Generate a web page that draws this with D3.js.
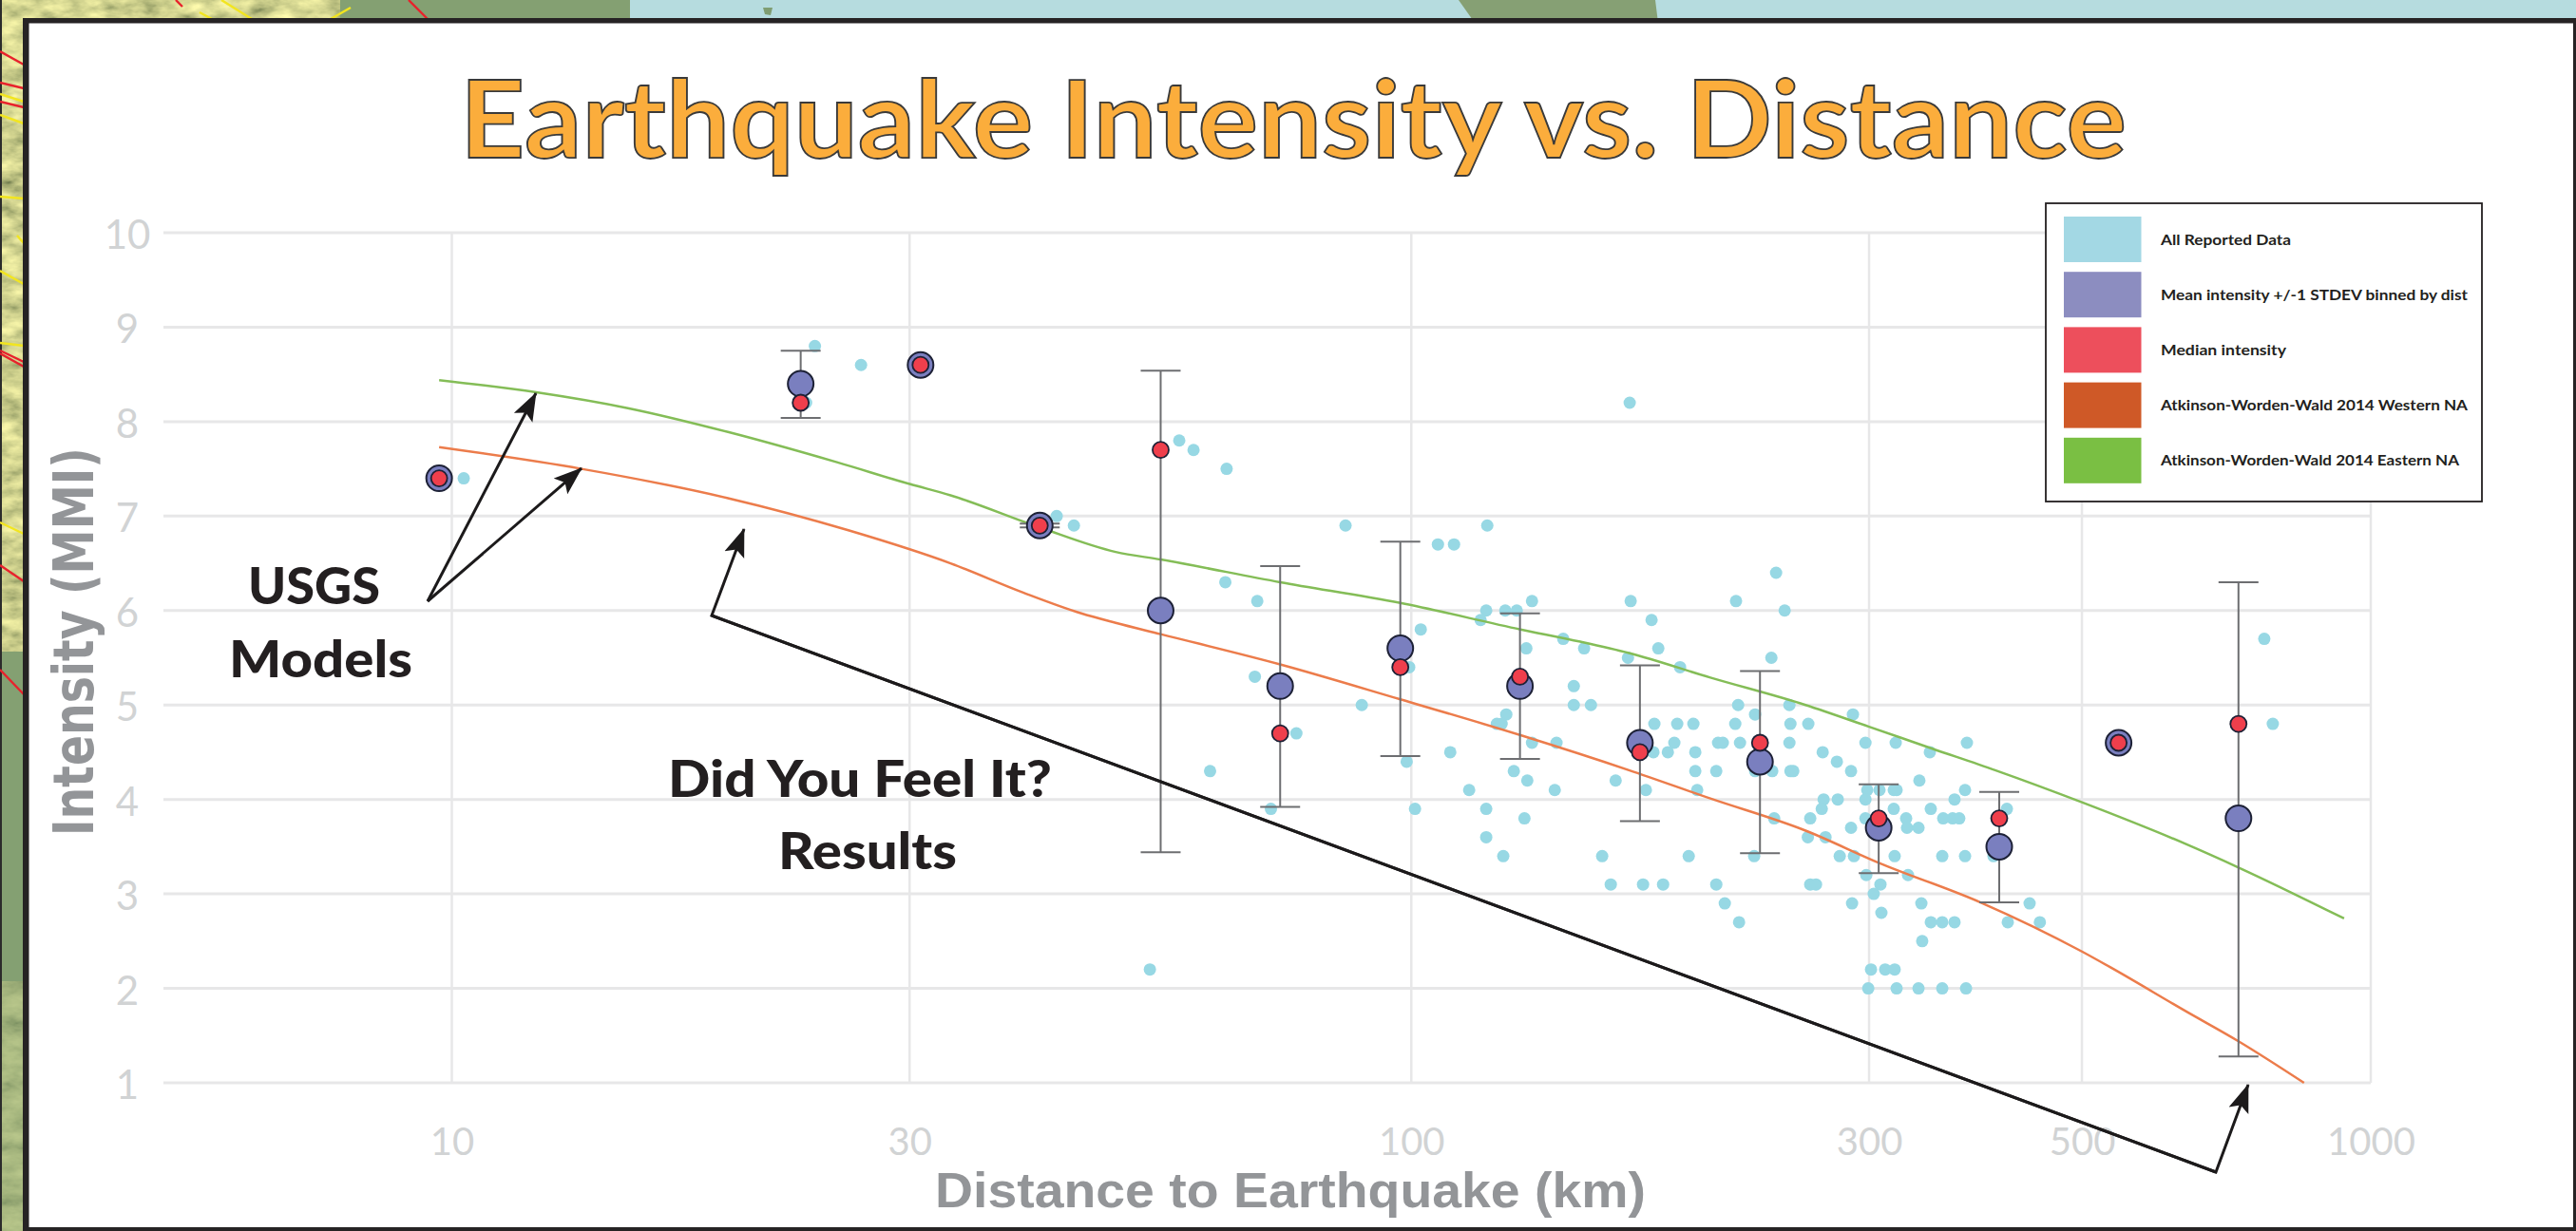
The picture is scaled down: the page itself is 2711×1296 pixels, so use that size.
<html>

<head>
    <script src="https://cdn.jsdelivr.net/npm/d3@7"></script>
    <style>
        html, body {
            margin: 0;
            padding: 0;
            background: white;
        }

        svg {
            display: block;
        }

        text {
            font-family: Lato, "Open Sans", sans-serif;
        }
    </style>
</head>

<body>
    <svg id="chart" width="2711" height="1296"></svg>
</body>
<script>
    const xTicks = [10, 30, 100, 300, 500, 1000];
    const yTicks = [1, 2, 3, 4, 5, 6, 7, 8, 9, 10];

    // every felt report, [distance km, intensity]
    const reportedPoints = [
        [23.9, 8.8], [26.7, 8.6], [23.4, 8.2], [168.9, 8.2], [57.3, 7.8], [59.3, 7.7], [64.2, 7.5], [10.29, 7.4],
        [42.7, 7.0], [44.5, 6.9], [85.4, 6.9], [120, 6.9], [106.6, 6.7], [110.8, 6.7], [240, 6.4], [64, 6.3],
        [69.1, 6.1], [133.6, 6.1], [169.3, 6.1], [218, 6.1], [119.7, 6.0], [125.3, 6.0], [128.8, 6.0], [245, 6.0],
        [118.1, 5.9], [178, 5.9], [102.3, 5.8], [144, 5.7], [774.5, 5.7], [131.8, 5.6], [151.4, 5.6], [180.9, 5.6],
        [168.2, 5.5], [237.3, 5.5], [99.5, 5.4], [190.6, 5.4], [68.7, 5.3], [147.7, 5.2], [88.8, 5.0], [147.7, 5.0],
        [153.9, 5.0], [219.1, 5.0], [247.8, 5.0], [125.6, 4.9], [228.2, 4.9], [288.6, 4.9], [122.8, 4.8], [124.2, 4.8],
        [179.2, 4.8], [189.3, 4.8], [196.8, 4.8], [217.6, 4.8], [248.4, 4.8], [259.3, 4.8], [790.5, 4.8], [75.9, 4.7],
        [133.6, 4.6], [141.7, 4.6], [188, 4.6], [208.8, 4.6], [211.2, 4.6], [220.1, 4.6], [247.8, 4.6], [297.4, 4.6],
        [319.8, 4.6], [379.4, 4.6], [109.8, 4.5], [178.8, 4.5], [185.1, 4.5], [197.7, 4.5], [268.4, 4.5], [347.1, 4.5],
        [98.9, 4.4], [277.7, 4.4], [61.7, 4.3], [127.9, 4.3], [197.7, 4.3], [207.9, 4.3], [228.2, 4.3], [237.8, 4.3],
        [248.4, 4.3], [250.1, 4.3], [287.3, 4.3], [132.1, 4.2], [163.3, 4.2], [338.5, 4.2], [114.9, 4.1], [141.1, 4.1],
        [175.6, 4.1], [198.6, 4.1], [298.7, 4.1], [307.6, 4.1], [318.3, 4.1], [320.5, 4.1], [377.7, 4.1], [269, 4.0],
        [278.3, 4.0], [297.4, 4.0], [368.3, 4.0], [71.4, 3.9], [100.9, 3.9], [119.7, 3.9], [267.8, 3.9], [318.3, 3.9],
        [347.9, 3.9], [417.6, 3.9], [131.2, 3.8], [238.9, 3.8], [260.5, 3.8], [297.4, 3.8], [327.9, 3.8], [358.4, 3.8],
        [366.6, 3.8], [372.5, 3.8], [287.3, 3.7], [328.6, 3.7], [337.8, 3.7], [119.7, 3.6], [259, 3.6], [270.2, 3.6],
        [124.7, 3.4], [158.1, 3.4], [194.6, 3.4], [227.7, 3.4], [279.6, 3.4], [289.3, 3.4], [319, 3.4], [357.6, 3.4],
        [377.7, 3.4], [404.4, 3.4], [298, 3.2], [329.4, 3.2], [161.4, 3.1], [174.4, 3.1], [183, 3.1], [207.9, 3.1],
        [260.5, 3.1], [264.1, 3.1], [308.3, 3.1], [303.4, 3.0], [212.2, 2.9], [288, 2.9], [340.1, 2.9], [441, 2.9],
        [309, 2.8], [219.6, 2.7], [347.9, 2.7], [357.6, 2.7], [368.3, 2.7], [418.5, 2.7], [452, 2.7], [340.8, 2.5],
        [53.4, 2.2], [301.4, 2.2], [311.8, 2.2], [319, 2.2], [299.4, 2.0], [320.5, 2.0], [337.8, 2.0], [357.6, 2.0],
        [378.6, 2.0]
    ];

    // binned results, one entry per distance bin
    const binKm = [9.7, 23.1, 30.8, 41, 54.8, 73, 97.4, 129.8, 173.1, 230.9, 307, 410, 546, 728];
    const binMean = [7.4, 8.4, 8.6, 6.9, 6.0, 5.2, 5.6, 5.2, 4.6, 4.4, 3.7, 3.5, 4.6, 3.8];
    const binMedian = [7.4, 8.2, 8.6, 6.9, 7.7, 4.7, 5.4, 5.3, 4.5, 4.6, 3.8, 3.8, 4.6, 4.8];
    const binUpper = [7.4, 8.75, 8.6, 6.92, 8.54, 6.47, 6.73, 5.97, 5.42, 5.36, 4.16, 4.08, 4.6, 6.3];
    const binLower = [7.4, 8.04, 8.6, 6.88, 3.44, 3.92, 4.46, 4.43, 3.77, 3.43, 3.22, 2.91, 4.6, 1.28];

    const easternKm = [9.7, 12.25, 15.3, 19.4, 25.2, 30, 33.1, 41, 49.2, 54.8, 73, 97.4, 130, 150, 168.6, 205, 257.6, 300, 348.7, 406, 500, 641, 728, 938];
    const easternMmi = [8.44, 8.31, 8.14, 7.89, 7.57, 7.34, 7.22, 6.88, 6.62, 6.54, 6.30, 6.08, 5.80, 5.67, 5.55, 5.29, 5.0, 4.77, 4.54, 4.31, 3.97, 3.53, 3.28, 2.74];

    const westernKm = [9.7, 13.65, 19.4, 25.9, 33.1, 39.4, 45.3, 49.2, 54.8, 73, 97.4, 130, 168.6, 205, 257.6, 307, 392, 500, 536, 641, 728, 852];
    const westernMmi = [7.73, 7.5, 7.19, 6.85, 6.5, 6.19, 5.97, 5.87, 5.75, 5.43, 5.06, 4.68, 4.31, 4.01, 3.67, 3.33, 2.91, 2.39, 2.22, 1.76, 1.44, 1.0];

    const legendLabels = [
        "All Reported Data",
        "Mean intensity +/-1 STDEV binned by dist",
        "Median intensity",
        "Atkinson-Worden-Wald 2014 Western NA",
        "Atkinson-Worden-Wald 2014 Eastern NA"
    ];
    const legendColors = ["#a3d8e4", "#8c8dc0", "#ed4f5c", "#cf5927", "#7abf43"];
    const legendWidths = [137, 323, 132, 323, 314];

    const svg = d3.select("#chart");
    const x = d3.scaleLog().domain([10, 1000]).range([475.5, 2495]);
    const y = d3.scaleLinear().domain([1, 10]).range([1140, 245]);
    const gridLeft = 172;

    function drawBackdrop() {
        const defs = svg.append("defs");
        let terrain = defs.append("filter").attr("id", "terrain")
            .attr("x", 0).attr("y", 0).attr("width", 1).attr("height", 1);
        terrain.append("feTurbulence")
            .attr("type", "fractalNoise")
            .attr("baseFrequency", "0.035 0.07")
            .attr("numOctaves", 4)
            .attr("seed", 7);
        terrain.append("feColorMatrix")
            .attr("color-interpolation-filters", "sRGB")
            .attr("values", "0.9 0 0 0 0.16  0.8 0 0 0 0.24  0.6 0 0 0 0.12  0 0 0 0 1");

        svg.append("rect").attr("width", 2711).attr("height", 1296).attr("fill", "#84a072");
        // water along the top
        svg.append("rect").attr("x", 663).attr("width", 2048).attr("height", 24).attr("fill", "#b6dcdf");
        svg.append("path").attr("d", "M1535,0 L1742,0 L1745,24 L1552,24 Z").attr("fill", "#86a074");
        svg.append("path").attr("d", "M803,8 L813,8 L811,16 L805,15 Z").attr("fill", "#7f9d72");
        // hillshade on the left and top
        svg.append("rect").attr("width", 358).attr("height", 24).attr("filter", "url(#terrain)");
        svg.append("rect").attr("width", 26).attr("height", 686).attr("filter", "url(#terrain)");
        svg.append("rect").attr("y", 1033).attr("width", 26).attr("height", 263).attr("filter", "url(#terrain)").attr("opacity", 0.45);
        svg.append("rect").attr("width", 2).attr("height", 1296).attr("fill", "#2b2b2b");

        const redFaults = [[0, 54, 25, 68], [0, 87, 25, 93], [0, 107, 25, 113], [0, 369, 25, 381], [0, 372, 25, 386], [0, 595, 25, 612], [0, 705, 25, 731], [185, 0, 192, 7], [430, 0, 450, 20]];
        const yellowFaults = [[0, 99, 25, 107], [0, 121, 25, 130], [0, 207, 25, 209], [18, 248, 25, 256], [0, 285, 25, 299], [0, 361, 25, 364], [0, 550, 25, 562], [210, 13, 223, 20], [233, 0, 265, 20], [348, 20, 369, 8]];
        svg.selectAll(".red-fault").data(redFaults).enter().append("line")
            .attr("class", "red-fault")
            .attr("x1", d => d[0]).attr("y1", d => d[1]).attr("x2", d => d[2]).attr("y2", d => d[3])
            .attr("stroke", "#e8222c").attr("stroke-width", 2.4);
        svg.selectAll(".yellow-fault").data(yellowFaults).enter().append("line")
            .attr("class", "yellow-fault")
            .attr("x1", d => d[0]).attr("y1", d => d[1]).attr("x2", d => d[2]).attr("y2", d => d[3])
            .attr("stroke", "#f2e51f").attr("stroke-width", 2.4);

        // the black framed white panel
        svg.append("rect").attr("x", 24).attr("y", 19).attr("width", 2687).attr("height", 1277).attr("fill", "#262324");
        svg.append("rect").attr("x", 30.5).attr("y", 24.5).attr("width", 2677.5).attr("height", 1267.5).attr("fill", "white");
    }

    function drawGrid() {
        svg.append("g").selectAll("line").data(yTicks).enter().append("line")
            .attr("x1", gridLeft).attr("x2", x(1000))
            .attr("y1", d => y(d)).attr("y2", d => y(d))
            .attr("stroke", "#e7e7e8").attr("stroke-width", 3);
        svg.append("g").selectAll("line").data(xTicks).enter().append("line")
            .attr("x1", d => x(d)).attr("x2", d => x(d))
            .attr("y1", y(10)).attr("y2", y(1))
            .attr("stroke", "#e7e7e8").attr("stroke-width", 2.5);

        let xAxis = d3.axisBottom(x).tickValues(xTicks).tickFormat(d3.format("d")).tickSize(0);
        let yAxis = d3.axisLeft(y).tickValues(yTicks).tickFormat(d3.format("d")).tickSize(0);
        let xg = svg.append("g").attr("transform", "translate(0,1216)").call(xAxis);
        let yg = svg.append("g").attr("transform", "translate(134,3)").call(yAxis);
        xg.select(".domain").remove();
        yg.select(".domain").remove();
        xg.selectAll("text").attr("y", 0).attr("dy", 0)
            .style("font-family", "Lato").style("font-size", "40px").style("fill", "#d1d3d4");
        yg.selectAll("text").attr("x", 0).attr("text-anchor", "middle")
            .style("font-family", "Lato").style("font-size", "42px").style("fill", "#d1d3d4");
    }

    function drawData() {
        svg.append("g").selectAll("circle").data(reportedPoints).enter().append("circle")
            .attr("cx", d => x(d[0])).attr("cy", d => y(d[1])).attr("r", 6.5)
            .attr("fill", "#97d8e4");

        let line = d3.line().x(d => x(d[0])).y(d => y(d[1])).curve(d3.curveMonotoneX);
        svg.append("path").attr("d", line(d3.zip(easternKm, easternMmi)))
            .attr("fill", "none").attr("stroke", "#84bd57").attr("stroke-width", 2.5);
        svg.append("path").attr("d", line(d3.zip(westernKm, westernMmi)))
            .attr("fill", "none").attr("stroke", "#ec7c4b").attr("stroke-width", 2.5);

        // error bars, bins with a single report have none
        let bins = binKm.map((km, i) => ({km, mean: binMean[i], median: binMedian[i], upper: binUpper[i], lower: binLower[i]}));
        let bars = svg.append("g").selectAll("g").data(bins.filter(d => d.upper > d.lower)).enter().append("g")
            .attr("stroke", "#6d6e71").attr("stroke-width", 2);
        bars.append("line")
            .attr("x1", d => x(d.km)).attr("x2", d => x(d.km))
            .attr("y1", d => y(d.upper)).attr("y2", d => y(d.lower));
        bars.append("line")
            .attr("x1", d => x(d.km) - 21).attr("x2", d => x(d.km) + 21)
            .attr("y1", d => y(d.upper)).attr("y2", d => y(d.upper));
        bars.append("line")
            .attr("x1", d => x(d.km) - 21).attr("x2", d => x(d.km) + 21)
            .attr("y1", d => y(d.lower)).attr("y2", d => y(d.lower));

        svg.append("g").selectAll("circle").data(bins).enter().append("circle")
            .attr("cx", d => x(d.km)).attr("cy", d => y(d.mean)).attr("r", 13.5)
            .attr("fill", "#7a7fbf").attr("stroke", "#1d2136").attr("stroke-width", 2);
        svg.append("g").selectAll("circle").data(bins).enter().append("circle")
            .attr("cx", d => x(d.km)).attr("cy", d => y(d.median)).attr("r", 8.5)
            .attr("fill", "#ef3f4c").attr("stroke", "#1d2136").attr("stroke-width", 1.8);
    }

    function addText(label, px, py, size, weight, color, width) {
        return svg.append("text")
            .attr("x", px).attr("y", py)
            .attr("textLength", width).attr("lengthAdjust", "spacingAndGlyphs")
            .style("font-size", size + "px").style("font-weight", weight).style("fill", color)
            .text(label);
    }

    function drawLabels() {
        addText("Earthquake Intensity vs. Distance", 484, 166, 113, 700, "#fbad3c", 1754)
            .attr("stroke", "#3a3a3a").attr("stroke-width", 1.8);

        addText("Distance to Earthquake (km)", 984, 1271, 52, 700, "#939598", 748)
            .style("font-family", "Liberation Sans");
        svg.append("text")
            .attr("transform", "translate(98,880) rotate(-90)")
            .attr("textLength", 409).attr("lengthAdjust", "spacingAndGlyphs")
            .style("font-family", "DejaVu Sans").style("font-size", "58px").style("font-weight", 700).style("fill", "#939598")
            .text("Intensity (MMI)");

        addText("USGS", 261, 636, 54, 900, "#231f20", 139);
        addText("Models", 241, 713, 54, 900, "#231f20", 193);
        addText("Did You Feel It?", 703, 839, 54, 900, "#231f20", 404);
        addText("Results", 819, 915, 54, 900, "#231f20", 188);
    }

    function drawArrows() {
        svg.select("defs").append("marker")
            .attr("id", "head")
            .attr("viewBox", "0 0 30 24")
            .attr("refX", 29).attr("refY", 12)
            .attr("markerWidth", 30).attr("markerHeight", 24)
            .attr("markerUnits", "userSpaceOnUse")
            .attr("orient", "auto")
            .append("path").attr("d", "M0,1 L30,12 L0,23 L6,12 Z").attr("fill", "#1c1a1b");

        const arrows = [
            [[450, 633], [564, 414]],
            [[450, 633], [612, 493]],
            [[2332, 1234], [749, 648], [783, 557]],
            [[749, 648], [2332, 1234], [2366, 1142]]
        ];
        svg.append("g").selectAll("path").data(arrows).enter().append("path")
            .attr("d", d => d3.line()(d))
            .attr("fill", "none").attr("stroke", "#1c1a1b").attr("stroke-width", 3)
            .attr("marker-end", "url(#head)");
    }

    function drawLegend() {
        svg.append("rect")
            .attr("x", 2153).attr("y", 214).attr("width", 459).attr("height", 314)
            .attr("fill", "white").attr("stroke", "#231f20").attr("stroke-width", 1.8);
        let rows = svg.append("g").selectAll("g").data(legendLabels).enter().append("g")
            .attr("transform", (d, i) => "translate(2172," + (228 + i * 58.2) + ")");
        rows.append("rect")
            .attr("width", 81.5).attr("height", 48)
            .attr("fill", (d, i) => legendColors[i]);
        rows.append("text")
            .attr("x", 102).attr("y", 24).attr("dy", ".35em")
            .attr("textLength", (d, i) => legendWidths[i]).attr("lengthAdjust", "spacingAndGlyphs")
            .style("font-size", "16px").style("font-weight", 700).style("fill", "#231f20")
            .text(d => d);
    }

    drawBackdrop();
    drawGrid();
    drawData();
    drawLabels();
    drawArrows();
    drawLegend();
</script>
</html>
